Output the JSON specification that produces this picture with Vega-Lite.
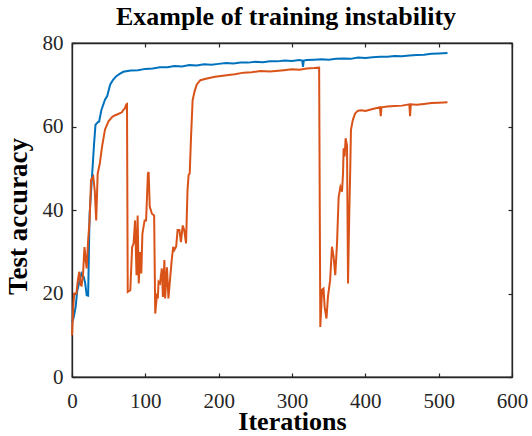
{
  "$schema": "https://vega.github.io/schema/vega-lite/v6.json",
  "width": 440,
  "height": 334,
  "autosize": "none",
  "padding": {"left": 72, "top": 43, "right": 20, "bottom": 59},
  "title": {
    "text": "Example of training instability",
    "font": "Liberation Serif",
    "fontSize": 26,
    "fontWeight": "bold",
    "color": "#000000",
    "anchor": "middle",
    "baseline": "alphabetic",
    "offset": -19,
    "dx": -6
  },
  "datasets": {
    "runs": [
      {"it": 0, "acc": 13.2, "run": "Stable"},
      {"it": 2, "acc": 14.0, "run": "Stable"},
      {"it": 5, "acc": 16.8, "run": "Stable"},
      {"it": 7, "acc": 20.5, "run": "Stable"},
      {"it": 10, "acc": 22.8, "run": "Stable"},
      {"it": 13, "acc": 24.8, "run": "Stable"},
      {"it": 16, "acc": 24.0, "run": "Stable"},
      {"it": 18, "acc": 22.5, "run": "Stable"},
      {"it": 20, "acc": 19.6, "run": "Stable"},
      {"it": 22, "acc": 19.5, "run": "Stable"},
      {"it": 24, "acc": 39.0, "run": "Stable"},
      {"it": 27, "acc": 47.2, "run": "Stable"},
      {"it": 29, "acc": 52.8, "run": "Stable"},
      {"it": 30, "acc": 55.6, "run": "Stable"},
      {"it": 32, "acc": 60.4, "run": "Stable"},
      {"it": 35, "acc": 61.0, "run": "Stable"},
      {"it": 37, "acc": 61.2, "run": "Stable"},
      {"it": 40, "acc": 63.9, "run": "Stable"},
      {"it": 45, "acc": 66.4, "run": "Stable"},
      {"it": 48, "acc": 67.3, "run": "Stable"},
      {"it": 52, "acc": 70.0, "run": "Stable"},
      {"it": 56, "acc": 71.2, "run": "Stable"},
      {"it": 60, "acc": 72.0, "run": "Stable"},
      {"it": 65, "acc": 72.6, "run": "Stable"},
      {"it": 70, "acc": 73.1, "run": "Stable"},
      {"it": 80, "acc": 73.4, "run": "Stable"},
      {"it": 90, "acc": 73.5, "run": "Stable"},
      {"it": 100, "acc": 73.8, "run": "Stable"},
      {"it": 110, "acc": 73.9, "run": "Stable"},
      {"it": 120, "acc": 74.2, "run": "Stable"},
      {"it": 130, "acc": 74.2, "run": "Stable"},
      {"it": 140, "acc": 74.5, "run": "Stable"},
      {"it": 150, "acc": 74.4, "run": "Stable"},
      {"it": 160, "acc": 74.7, "run": "Stable"},
      {"it": 170, "acc": 74.6, "run": "Stable"},
      {"it": 180, "acc": 74.9, "run": "Stable"},
      {"it": 190, "acc": 74.8, "run": "Stable"},
      {"it": 200, "acc": 75.0, "run": "Stable"},
      {"it": 210, "acc": 75.2, "run": "Stable"},
      {"it": 220, "acc": 75.1, "run": "Stable"},
      {"it": 230, "acc": 75.3, "run": "Stable"},
      {"it": 240, "acc": 75.3, "run": "Stable"},
      {"it": 250, "acc": 75.5, "run": "Stable"},
      {"it": 260, "acc": 75.4, "run": "Stable"},
      {"it": 270, "acc": 75.6, "run": "Stable"},
      {"it": 280, "acc": 75.6, "run": "Stable"},
      {"it": 290, "acc": 75.8, "run": "Stable"},
      {"it": 300, "acc": 75.7, "run": "Stable"},
      {"it": 310, "acc": 75.9, "run": "Stable"},
      {"it": 314, "acc": 75.8, "run": "Stable"},
      {"it": 315, "acc": 74.3, "run": "Stable"},
      {"it": 316, "acc": 75.8, "run": "Stable"},
      {"it": 320, "acc": 75.9, "run": "Stable"},
      {"it": 330, "acc": 76.0, "run": "Stable"},
      {"it": 340, "acc": 76.1, "run": "Stable"},
      {"it": 350, "acc": 76.0, "run": "Stable"},
      {"it": 360, "acc": 76.2, "run": "Stable"},
      {"it": 370, "acc": 76.3, "run": "Stable"},
      {"it": 380, "acc": 76.2, "run": "Stable"},
      {"it": 390, "acc": 76.5, "run": "Stable"},
      {"it": 400, "acc": 76.4, "run": "Stable"},
      {"it": 410, "acc": 76.6, "run": "Stable"},
      {"it": 420, "acc": 76.7, "run": "Stable"},
      {"it": 430, "acc": 76.7, "run": "Stable"},
      {"it": 440, "acc": 76.9, "run": "Stable"},
      {"it": 450, "acc": 76.8, "run": "Stable"},
      {"it": 460, "acc": 77.0, "run": "Stable"},
      {"it": 470, "acc": 77.1, "run": "Stable"},
      {"it": 480, "acc": 77.2, "run": "Stable"},
      {"it": 490, "acc": 77.4, "run": "Stable"},
      {"it": 500, "acc": 77.5, "run": "Stable"},
      {"it": 512, "acc": 77.6, "run": "Stable"},
      {"it": 0, "acc": 10.0, "run": "Unstable"},
      {"it": 2, "acc": 17.5, "run": "Unstable"},
      {"it": 3, "acc": 20.0, "run": "Unstable"},
      {"it": 6, "acc": 20.0, "run": "Unstable"},
      {"it": 8, "acc": 23.2, "run": "Unstable"},
      {"it": 10, "acc": 25.2, "run": "Unstable"},
      {"it": 12, "acc": 22.0, "run": "Unstable"},
      {"it": 13, "acc": 21.9, "run": "Unstable"},
      {"it": 15, "acc": 24.4, "run": "Unstable"},
      {"it": 17, "acc": 31.1, "run": "Unstable"},
      {"it": 19, "acc": 27.5, "run": "Unstable"},
      {"it": 20, "acc": 26.0, "run": "Unstable"},
      {"it": 22, "acc": 32.8, "run": "Unstable"},
      {"it": 24, "acc": 37.5, "run": "Unstable"},
      {"it": 26, "acc": 47.2, "run": "Unstable"},
      {"it": 29, "acc": 48.0, "run": "Unstable"},
      {"it": 31, "acc": 44.7, "run": "Unstable"},
      {"it": 33, "acc": 37.5, "run": "Unstable"},
      {"it": 35, "acc": 48.7, "run": "Unstable"},
      {"it": 38, "acc": 51.2, "run": "Unstable"},
      {"it": 40, "acc": 53.9, "run": "Unstable"},
      {"it": 41, "acc": 55.2, "run": "Unstable"},
      {"it": 45, "acc": 59.3, "run": "Unstable"},
      {"it": 50, "acc": 61.3, "run": "Unstable"},
      {"it": 55, "acc": 62.3, "run": "Unstable"},
      {"it": 59, "acc": 62.7, "run": "Unstable"},
      {"it": 63, "acc": 63.0, "run": "Unstable"},
      {"it": 68, "acc": 63.4, "run": "Unstable"},
      {"it": 70, "acc": 64.0, "run": "Unstable"},
      {"it": 72, "acc": 64.3, "run": "Unstable"},
      {"it": 74, "acc": 65.3, "run": "Unstable"},
      {"it": 75, "acc": 65.4, "run": "Unstable"},
      {"it": 76, "acc": 20.4, "run": "Unstable"},
      {"it": 79.5, "acc": 20.8, "run": "Unstable"},
      {"it": 82, "acc": 31.1, "run": "Unstable"},
      {"it": 84, "acc": 32.0, "run": "Unstable"},
      {"it": 86, "acc": 37.5, "run": "Unstable"},
      {"it": 88, "acc": 24.4, "run": "Unstable"},
      {"it": 89.5, "acc": 38.7, "run": "Unstable"},
      {"it": 91, "acc": 22.4, "run": "Unstable"},
      {"it": 93, "acc": 29.9, "run": "Unstable"},
      {"it": 94.5, "acc": 24.8, "run": "Unstable"},
      {"it": 96, "acc": 34.3, "run": "Unstable"},
      {"it": 99, "acc": 37.5, "run": "Unstable"},
      {"it": 101, "acc": 37.5, "run": "Unstable"},
      {"it": 103.5, "acc": 48.7, "run": "Unstable"},
      {"it": 104.5, "acc": 49.1, "run": "Unstable"},
      {"it": 106, "acc": 40.8, "run": "Unstable"},
      {"it": 109, "acc": 39.1, "run": "Unstable"},
      {"it": 112, "acc": 38.7, "run": "Unstable"},
      {"it": 113.5, "acc": 15.2, "run": "Unstable"},
      {"it": 116, "acc": 20.0, "run": "Unstable"},
      {"it": 117, "acc": 18.8, "run": "Unstable"},
      {"it": 118, "acc": 22.8, "run": "Unstable"},
      {"it": 120, "acc": 22.4, "run": "Unstable"},
      {"it": 122.5, "acc": 26.0, "run": "Unstable"},
      {"it": 124, "acc": 19.2, "run": "Unstable"},
      {"it": 126, "acc": 28.0, "run": "Unstable"},
      {"it": 127, "acc": 18.8, "run": "Unstable"},
      {"it": 129.5, "acc": 26.3, "run": "Unstable"},
      {"it": 131.5, "acc": 18.8, "run": "Unstable"},
      {"it": 134, "acc": 24.0, "run": "Unstable"},
      {"it": 136, "acc": 28.0, "run": "Unstable"},
      {"it": 138, "acc": 31.2, "run": "Unstable"},
      {"it": 139.5, "acc": 30.4, "run": "Unstable"},
      {"it": 142, "acc": 31.2, "run": "Unstable"},
      {"it": 144, "acc": 35.2, "run": "Unstable"},
      {"it": 146.5, "acc": 35.2, "run": "Unstable"},
      {"it": 148.5, "acc": 32.3, "run": "Unstable"},
      {"it": 151, "acc": 36.3, "run": "Unstable"},
      {"it": 153, "acc": 35.2, "run": "Unstable"},
      {"it": 155.5, "acc": 32.0, "run": "Unstable"},
      {"it": 157.5, "acc": 44.7, "run": "Unstable"},
      {"it": 159, "acc": 48.4, "run": "Unstable"},
      {"it": 160.5, "acc": 48.7, "run": "Unstable"},
      {"it": 162.5, "acc": 58.3, "run": "Unstable"},
      {"it": 164.5, "acc": 66.3, "run": "Unstable"},
      {"it": 167, "acc": 68.3, "run": "Unstable"},
      {"it": 170, "acc": 70.0, "run": "Unstable"},
      {"it": 175, "acc": 71.1, "run": "Unstable"},
      {"it": 184, "acc": 71.5, "run": "Unstable"},
      {"it": 195, "acc": 71.9, "run": "Unstable"},
      {"it": 211, "acc": 72.3, "run": "Unstable"},
      {"it": 222, "acc": 72.5, "run": "Unstable"},
      {"it": 234, "acc": 72.9, "run": "Unstable"},
      {"it": 245, "acc": 73.0, "run": "Unstable"},
      {"it": 257, "acc": 73.3, "run": "Unstable"},
      {"it": 270, "acc": 73.2, "run": "Unstable"},
      {"it": 289, "acc": 73.5, "run": "Unstable"},
      {"it": 300, "acc": 73.7, "run": "Unstable"},
      {"it": 310, "acc": 73.6, "run": "Unstable"},
      {"it": 320, "acc": 73.9, "run": "Unstable"},
      {"it": 330, "acc": 74.0, "run": "Unstable"},
      {"it": 337, "acc": 74.1, "run": "Unstable"},
      {"it": 338.6, "acc": 12.0, "run": "Unstable"},
      {"it": 341, "acc": 20.9, "run": "Unstable"},
      {"it": 343, "acc": 21.2, "run": "Unstable"},
      {"it": 344.5, "acc": 16.8, "run": "Unstable"},
      {"it": 347, "acc": 14.0, "run": "Unstable"},
      {"it": 349, "acc": 19.2, "run": "Unstable"},
      {"it": 352, "acc": 23.2, "run": "Unstable"},
      {"it": 354.5, "acc": 31.2, "run": "Unstable"},
      {"it": 356.7, "acc": 28.8, "run": "Unstable"},
      {"it": 359, "acc": 24.4, "run": "Unstable"},
      {"it": 361.4, "acc": 32.0, "run": "Unstable"},
      {"it": 363.6, "acc": 43.1, "run": "Unstable"},
      {"it": 366, "acc": 45.5, "run": "Unstable"},
      {"it": 368.2, "acc": 44.4, "run": "Unstable"},
      {"it": 369.6, "acc": 48.8, "run": "Unstable"},
      {"it": 370.4, "acc": 54.8, "run": "Unstable"},
      {"it": 371.8, "acc": 52.8, "run": "Unstable"},
      {"it": 373.1, "acc": 57.2, "run": "Unstable"},
      {"it": 375, "acc": 55.5, "run": "Unstable"},
      {"it": 376.4, "acc": 22.4, "run": "Unstable"},
      {"it": 378.2, "acc": 40.0, "run": "Unstable"},
      {"it": 379.5, "acc": 50.4, "run": "Unstable"},
      {"it": 380.4, "acc": 59.2, "run": "Unstable"},
      {"it": 383, "acc": 61.6, "run": "Unstable"},
      {"it": 386, "acc": 63.1, "run": "Unstable"},
      {"it": 390, "acc": 63.8, "run": "Unstable"},
      {"it": 395, "acc": 63.9, "run": "Unstable"},
      {"it": 400, "acc": 63.7, "run": "Unstable"},
      {"it": 410, "acc": 64.2, "run": "Unstable"},
      {"it": 420, "acc": 64.6, "run": "Unstable"},
      {"it": 421, "acc": 62.5, "run": "Unstable"},
      {"it": 422, "acc": 64.6, "run": "Unstable"},
      {"it": 430, "acc": 64.8, "run": "Unstable"},
      {"it": 440, "acc": 64.9, "run": "Unstable"},
      {"it": 450, "acc": 65.0, "run": "Unstable"},
      {"it": 460, "acc": 65.3, "run": "Unstable"},
      {"it": 461, "acc": 62.5, "run": "Unstable"},
      {"it": 462, "acc": 65.3, "run": "Unstable"},
      {"it": 470, "acc": 65.2, "run": "Unstable"},
      {"it": 480, "acc": 65.4, "run": "Unstable"},
      {"it": 490, "acc": 65.6, "run": "Unstable"},
      {"it": 500, "acc": 65.7, "run": "Unstable"},
      {"it": 512, "acc": 65.8, "run": "Unstable"}
    ]
  },
  "data": {"name": "runs"},
  "layer": [
    {
      "mark": {"type": "line", "strokeWidth": 2},
      "encoding": {
        "x": {
          "field": "it",
          "type": "quantitative",
          "scale": {"domain": [0, 600], "nice": false},
          "axis": {
            "orient": "bottom",
            "title": "Iterations",
            "values": [0, 100, 200, 300, 400, 500, 600],
            "labelFlush": false,
            "labelOverlap": false,
            "labelPadding": 17,
            "titlePadding": -3
          }
        },
        "y": {
          "field": "acc",
          "type": "quantitative",
          "scale": {"domain": [0, 80], "nice": false},
          "axis": {
            "orient": "left",
            "title": "Test accuracy",
            "titleFontSize": 27,
            "titleY": 173,
            "values": [0, 20, 40, 60, 80],
            "labelFlush": false,
            "labelOverlap": false,
            "labelPadding": 13,
            "titlePadding": 10
          }
        },
        "color": {
          "field": "run",
          "type": "nominal",
          "scale": {"domain": ["Stable", "Unstable"], "range": ["#0072BD", "#D95319"]},
          "legend": null
        }
      }
    },
    {
      "mark": {"type": "line", "opacity": 0},
      "encoding": {
        "x": {
          "field": "it",
          "type": "quantitative",
          "scale": {"domain": [0, 600], "nice": false},
          "axis": {"orient": "top", "title": null, "labels": false, "values": [0, 100, 200, 300, 400, 500, 600]}
        },
        "y": {
          "field": "acc",
          "type": "quantitative",
          "scale": {"domain": [0, 80], "nice": false},
          "axis": {"orient": "right", "title": null, "labels": false, "values": [0, 20, 40, 60, 80]}
        }
      }
    }
  ],
  "resolve": {"axis": {"x": "independent", "y": "independent"}},
  "config": {
    "view": {"stroke": "#262626", "strokeWidth": 1.3},
    "axis": {
      "grid": false,
      "domainColor": "#262626",
      "domainWidth": 1.3,
      "tickColor": "#262626",
      "tickWidth": 1.2,
      "tickSize": -4,
      "labelFont": "Liberation Serif",
      "labelFontSize": 21,
      "labelColor": "#262626",
      "titleFont": "Liberation Serif",
      "titleFontSize": 26,
      "titleFontWeight": "bold",
      "titleColor": "#000000"
    }
  }
}
